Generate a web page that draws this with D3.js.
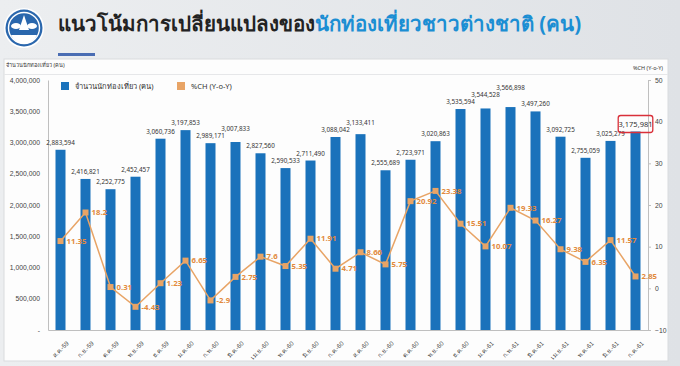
<!DOCTYPE html>
<html>
<head>
<meta charset="utf-8">
<script src="https://cdn.jsdelivr.net/npm/d3@7"></script>
<style>
  body { margin: 0; background: #e4e6e9; font-family: "Noto Sans", "DejaVu Sans", sans-serif; }
  svg { display: block; }
</style>
</head>
<body>
<div id="chart"></div>
<script>
const width = 680, height = 366;

// months (Thai abbreviations, Buddhist year)
const months = ["ส.ค.-59", "ก.ย.-59", "ต.ค.-59", "พ.ย.-59", "ธ.ค.-59", "ม.ค.-60", "ก.พ.-60", "มี.ค.-60",
  "เม.ย.-60", "พ.ค.-60", "มิ.ย.-60", "ก.ค.-60", "ส.ค.-60", "ก.ย.-60", "ต.ค.-60", "พ.ย.-60",
  "ธ.ค.-60", "ม.ค.-61", "ก.พ.-61", "มี.ค.-61", "เม.ย.-61", "พ.ค.-61", "มิ.ย.-61", "ก.ค.-61"];
const tourists = [2883594, 2416821, 2252775, 2452457, 3060736, 3197853, 2989171, 3007833,
  2827560, 2590533, 2711490, 3088042, 3133411, 2555689, 2723971, 3020863,
  3535594, 3544528, 3566898, 3497260, 3092725, 2755059, 3025279, 3175981];
const pctChange = [11.35, 18.2, 0.31, -4.43, 1.23, 6.65, -2.9, 2.75,
  7.6, 5.35, 11.91, 4.71, 8.66, 5.75, 20.92, 23.38,
  15.51, 10.07, 19.33, 16.27, 9.38, 6.35, 11.57, 2.85];
const leftTicks = [0, 500000, 1000000, 1500000, 2000000, 2500000, 3000000, 3500000, 4000000];
const rightTicks = [-10, 0, 10, 20, 30, 40, 50];

const blue = "#1a72bb", orange = "#e8a466", labelOrange = "#e28a3c";

var svg = d3.select("#chart").append("svg")
    .attr("width", width)
    .attr("height", height);

// background
var bg = svg.append("defs").append("linearGradient").attr("id", "bg").attr("x1", 0).attr("x2", 1);
bg.append("stop").attr("offset", "0%").attr("stop-color", "#eceef0");
bg.append("stop").attr("offset", "100%").attr("stop-color", "#dfe2e6");
svg.append("rect").attr("width", width).attr("height", height).attr("fill", "url(#bg)");

// white panel
svg.append("rect")
    .attr("x", 4).attr("y", 59).attr("width", 664).attr("height", 302)
    .attr("fill", "#fdfdfd").attr("stroke", "#d9dbde");

// logo
var logo = svg.append("g").attr("transform", "translate(24,28)");
logo.append("circle").attr("r", 20).attr("fill", "#fff");
logo.append("circle").attr("r", 18.5).attr("fill", "#2a67ad");
logo.append("circle").attr("r", 15.5).attr("fill", "none").attr("stroke", "#fff").attr("stroke-width", 1.4);
logo.append("path").attr("d", "M-13,7 A14,14 0 0,0 13,7 Z").attr("fill", "#fff");
logo.append("path").attr("d", "M0,-13 L5,2 L-5,2 Z").attr("fill", "#fff");
logo.append("ellipse").attr("cx", -8).attr("cy", -2).attr("rx", 5).attr("ry", 3).attr("fill", "#fff");
logo.append("ellipse").attr("cx", 8).attr("cy", -2).attr("rx", 5).attr("ry", 3).attr("fill", "#fff");

// title
var title = svg.append("text")
    .attr("x", 58).attr("y", 31)
    .attr("font-size", 20.5).attr("font-weight", "bold");
title.append("tspan").attr("fill", "#222").text("แนวโน้มการเปลี่ยนแปลงของ");
title.append("tspan").attr("fill", "#1b8ed3").text("นักท่องเที่ยวชาวต่างชาติ (คน)");

svg.append("rect").attr("x", 58).attr("y", 53).attr("width", 37).attr("height", 3).attr("fill", "#4a6db3");

// scales
var x = d3.scaleBand()
    .domain(months)
    .range([48, 648])
    .paddingInner(0.6)
    .paddingOuter(0.3);

var y = d3.scaleLinear()
    .domain([0, 4000000])
    .range([330, 80]);

var y2 = d3.scaleLinear()
    .domain([-10, 50])
    .range([330, 80]);

var fmt = d3.format(",");

// axis titles
svg.append("text").attr("x", 6).attr("y", 67).attr("font-size", 5.5).attr("fill", "#333")
    .text("จำนวนนักท่องเที่ยว (คน)");
svg.append("text").attr("x", 663).attr("y", 70).attr("font-size", 5.5).attr("fill", "#333")
    .attr("text-anchor", "end").text("%CH (Y-o-Y)");
svg.append("line").attr("x1", 4).attr("x2", 668).attr("y1", 74.5).attr("y2", 74.5)
    .attr("stroke", "#e6e7e9");

// left axis
var leftAxis = svg.append("g")
    .attr("transform", "translate(48,0)")
    .call(d3.axisLeft(y).tickValues(leftTicks).tickSize(0).tickPadding(8)
      .tickFormat(function(d) { return d === 0 ? "-" : fmt(d); }));
leftAxis.select(".domain").attr("stroke", "#bfbfbf");
leftAxis.selectAll("text").attr("font-size", 6.8).attr("fill", "#444").attr("font-family", "inherit");

// right axis
var rightAxis = svg.append("g")
    .attr("transform", "translate(648,0)")
    .call(d3.axisRight(y2).tickValues(rightTicks).tickSize(3).tickPadding(4));
rightAxis.selectAll(".domain, line").attr("stroke", "#bfbfbf");
rightAxis.selectAll("text").attr("font-size", 6.8).attr("fill", "#444").attr("font-family", "inherit");

// bottom axis
var bottomAxis = svg.append("g")
    .attr("transform", "translate(0,330)")
    .call(d3.axisBottom(x).tickSize(0).tickPadding(6));
bottomAxis.select(".domain").attr("stroke", "#bfbfbf");
bottomAxis.selectAll("text")
    .attr("font-size", 6.3).attr("fill", "#444").attr("font-family", "inherit")
    .attr("text-anchor", "end")
    .attr("dy", "0.35em")
    .attr("transform", "translate(3,8) rotate(-45)");

// bars
svg.selectAll(".bar")
    .data(months)
  .enter().append("rect")
    .attr("class", "bar")
    .attr("x", function(d) { return x(d); })
    .attr("width", x.bandwidth())
    .attr("y", function(d, i) { return y(tourists[i]); })
    .attr("height", function(d, i) { return 330 - y(tourists[i]); })
    .attr("fill", blue);

// bar labels
var barLabels = svg.selectAll(".barlabel")
    .data(months)
  .enter().append("text")
    .attr("class", "barlabel")
    .attr("x", function(d) { return x(d) + x.bandwidth() / 2; })
    .attr("y", function(d, i) { return y(tourists[i]) - 5; })
    .attr("text-anchor", "middle")
    .attr("font-size", 6.3)
    .attr("fill", "#333")
    .text(function(d, i) { return fmt(tourists[i]); });

// push a label up when it collides with the previous one
var prev = null;
barLabels.each(function() {
  var node = d3.select(this);
  var cx = +node.attr("x"), cy = +node.attr("y"), w = this.getComputedTextLength();
  if (prev && Math.abs(cx - prev.x) < (w + prev.w) / 2 + 1 && Math.abs(cy - prev.y) < 7) {
    cy = prev.y - 7;
    node.attr("y", cy);
  }
  prev = { x: cx, y: cy, w: w };
});

// %CH line
var line = d3.line()
    .x(function(d, i) { return x(months[i]) + x.bandwidth() / 2; })
    .y(function(d) { return y2(d); });

svg.append("path")
    .datum(pctChange)
    .attr("d", line)
    .attr("fill", "none")
    .attr("stroke", orange)
    .attr("stroke-width", 1.5);

svg.selectAll(".marker")
    .data(pctChange)
  .enter().append("rect")
    .attr("class", "marker")
    .attr("x", function(d, i) { return x(months[i]) + x.bandwidth() / 2 - 3; })
    .attr("y", function(d) { return y2(d) - 3; })
    .attr("width", 6).attr("height", 6)
    .attr("fill", orange);

svg.selectAll(".pctlabel")
    .data(pctChange)
  .enter().append("text")
    .attr("class", "pctlabel")
    .attr("x", function(d, i) { return x(months[i]) + x.bandwidth() / 2 + 6; })
    .attr("y", function(d) { return y2(d); })
    .attr("dy", "0.35em")
    .attr("font-size", 7.8)
    .attr("font-weight", "bold")
    .attr("fill", labelOrange)
    .text(function(d) { return d; });

// highlight last value
var lastLabel = barLabels.filter(function(d, i) { return i === months.length - 1; });
var bb = lastLabel.node().getBBox();
svg.append("rect")
    .attr("x", bb.x - 3)
    .attr("y", bb.y - 4)
    .attr("width", bb.width + 6).attr("height", bb.height + 8).attr("rx", 2.5)
    .attr("fill", "none").attr("stroke", "#d9303a").attr("stroke-width", 1.3);
lastLabel.attr("font-size", 7.5);

// legend
var legend = svg.append("g").attr("transform", "translate(61,82)");
legend.append("rect").attr("width", 8).attr("height", 8).attr("fill", blue);
legend.append("text").attr("x", 14).attr("y", 7).attr("font-size", 7.5).attr("fill", "#333")
    .text("จำนวนนักท่องเที่ยว (คน)");
legend.append("rect").attr("x", 116).attr("width", 8).attr("height", 8).attr("fill", orange);
legend.append("text").attr("x", 130).attr("y", 7).attr("font-size", 7.5).attr("fill", "#333")
    .text("%CH (Y-o-Y)");
</script>
</body>
</html>
